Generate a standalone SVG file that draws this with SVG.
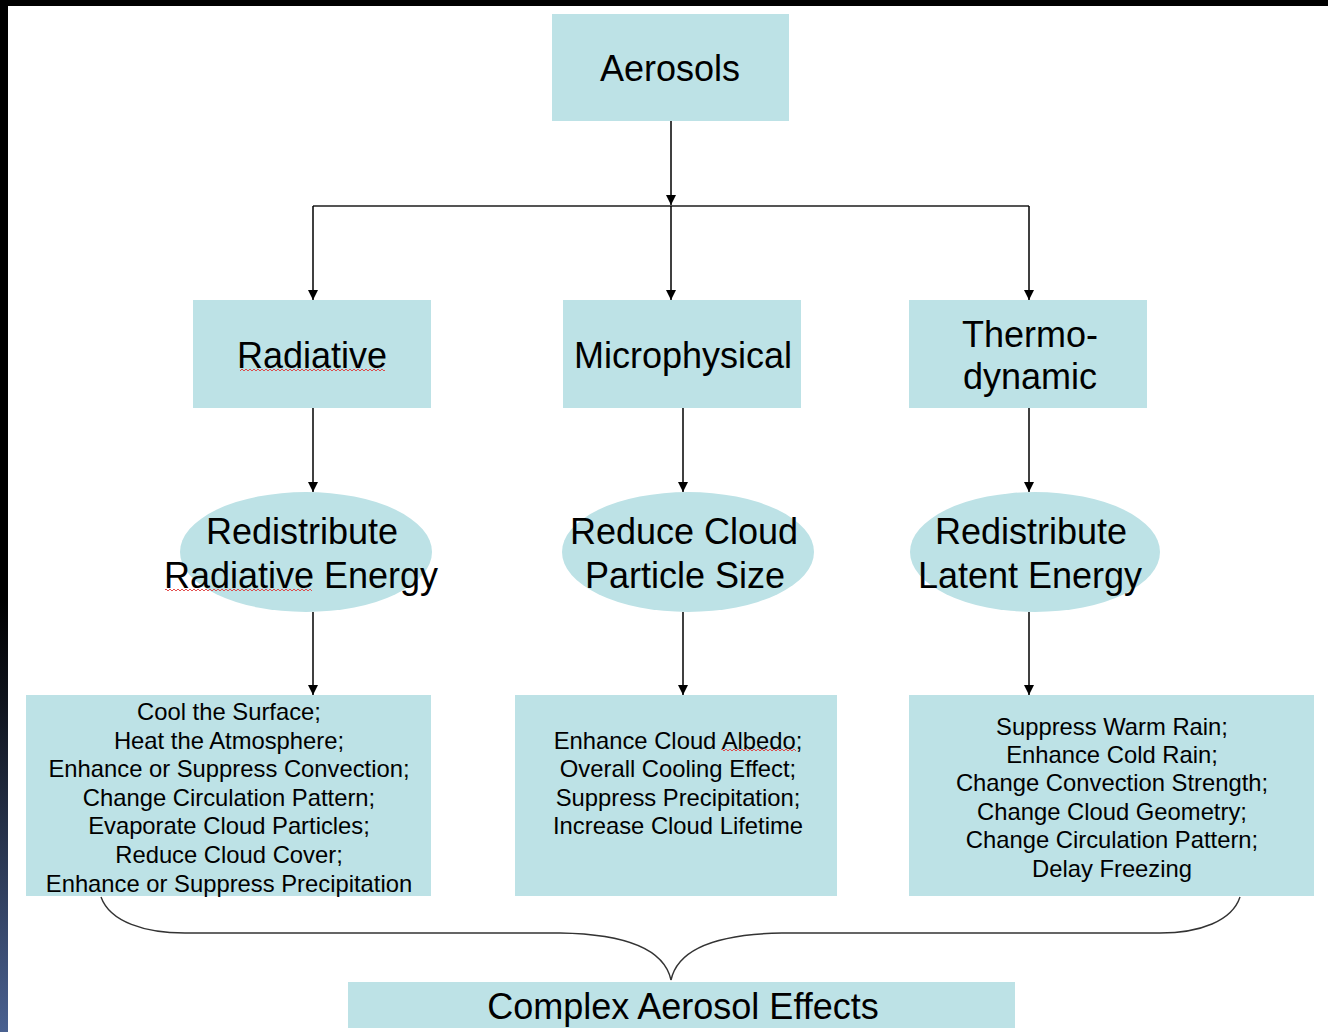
<svg xmlns="http://www.w3.org/2000/svg" width="1328" height="1032" viewBox="0 0 1328 1032">
  <defs>
    <linearGradient id="edge" x1="0" y1="0" x2="0" y2="1">
      <stop offset="0" stop-color="#000"/>
      <stop offset="0.58" stop-color="#000"/>
      <stop offset="0.68" stop-color="#0f131c"/>
      <stop offset="1" stop-color="#4a6190"/>
    </linearGradient>
    <marker id="arrow" viewBox="0 0 10 10" refX="10" refY="5" markerWidth="10" markerHeight="10" markerUnits="userSpaceOnUse" orient="auto">
      <path d="M0,0 L10,5 L0,10 Z" fill="#000"/>
    </marker>
    <!-- wavy spell-check underline -->
    <pattern id="squiggle" x="0" y="0" width="4" height="4" patternUnits="userSpaceOnUse">
      <path d="M0 3 L2 1 L4 3" fill="none" stroke="#e03a3a" stroke-width="0.9"/>
    </pattern>
  </defs>
  <style>
    .box { fill: #bde2e6; }
    .big { font-family: "Liberation Sans", Arial, sans-serif; font-size: 36px; fill: #000; text-anchor: middle; }
    .small { font-family: "Liberation Sans", Arial, sans-serif; font-size: 23.8px; fill: #000; text-anchor: middle; }
    .conn { fill: none; stroke: #000; stroke-width: 1.5; }
    .bus { fill: none; stroke: #555; stroke-width: 2; }
    .brace { fill: none; stroke: #333; stroke-width: 1.4; }
  </style>

  <rect x="0" y="0" width="1328" height="1032" fill="#fff"/>
  <!-- dark frame on top and left edges -->
  <rect x="0" y="0" width="1328" height="6" fill="#000"/>
  <rect x="0" y="0" width="8" height="1032" fill="url(#edge)"/>

  <g id="connectors">
    <path class="conn" d="M671 121 V205" marker-end="url(#arrow)"/>
    <path class="bus" d="M313 206 H1029"/>
    <path class="conn" d="M313 206 V300" marker-end="url(#arrow)"/>
    <path class="conn" d="M671 206 V300" marker-end="url(#arrow)"/>
    <path class="conn" d="M1029 206 V300" marker-end="url(#arrow)"/>
    <path class="conn" d="M313 408 V492" marker-end="url(#arrow)"/>
    <path class="conn" d="M683 408 V492" marker-end="url(#arrow)"/>
    <path class="conn" d="M1029 408 V492" marker-end="url(#arrow)"/>
    <path class="conn" d="M313 612 V695" marker-end="url(#arrow)"/>
    <path class="conn" d="M683 612 V695" marker-end="url(#arrow)"/>
    <path class="conn" d="M1029 612 V695" marker-end="url(#arrow)"/>
    <!-- brace gathering the three effect boxes -->
    <path class="brace" d="M101 897 C110 922 145 933 185 933 L560 933 C622 934 664 948 671 980"/>
    <path class="brace" d="M1240 897 C1232 921 1200 933 1160 933 L782 933 C720 934 678 948 671 980"/>
  </g>

  <g id="aerosols">
    <rect class="box" x="552" y="14" width="237" height="107"/>
    <text class="big" x="670" y="81">Aerosols</text>
  </g>

  <g id="radiative">
    <rect class="box" x="193" y="300" width="238" height="108"/>
    <text class="big" x="312" y="368">Radiative</text>
    <rect x="240" y="368" width="145" height="4" fill="url(#squiggle)"/>
  </g>

  <g id="microphysical">
    <rect class="box" x="563" y="300" width="238" height="108"/>
    <text class="big" x="683" y="368">Microphysical</text>
  </g>

  <g id="thermodynamic">
    <rect class="box" x="909" y="300" width="238" height="108"/>
    <text class="big" x="1030" y="347">Thermo-</text>
    <text class="big" x="1030" y="389">dynamic</text>
  </g>

  <g id="redistribute-radiative">
    <ellipse class="box" cx="306" cy="552" rx="126" ry="60"/>
    <text class="big" x="302" y="544">Redistribute</text>
    <text class="big" x="301" y="588">Radiative Energy</text>
    <rect x="165" y="588" width="147" height="4" fill="url(#squiggle)"/>
  </g>

  <g id="reduce-particle-size">
    <ellipse class="box" cx="688" cy="552" rx="126" ry="60"/>
    <text class="big" x="684" y="544">Reduce Cloud</text>
    <text class="big" x="685" y="588">Particle Size</text>
  </g>

  <g id="redistribute-latent">
    <ellipse class="box" cx="1035" cy="552" rx="125" ry="60"/>
    <text class="big" x="1031" y="544">Redistribute</text>
    <text class="big" x="1030" y="588">Latent Energy</text>
  </g>

  <g id="radiative-effects">
    <rect class="box" x="26" y="695" width="405" height="201"/>
    <text class="small" x="229" y="720">Cool the Surface;</text>
    <text class="small" x="229" y="749">Heat the Atmosphere;</text>
    <text class="small" x="229" y="777">Enhance or Suppress Convection;</text>
    <text class="small" x="229" y="806">Change Circulation Pattern;</text>
    <text class="small" x="229" y="834">Evaporate Cloud Particles;</text>
    <text class="small" x="229" y="863">Reduce Cloud Cover;</text>
    <text class="small" x="229" y="892">Enhance or Suppress Precipitation</text>
  </g>

  <g id="microphysical-effects">
    <rect class="box" x="515" y="695" width="322" height="201"/>
    <text class="small" x="678" y="749">Enhance Cloud Albedo;</text>
    <text class="small" x="678" y="777">Overall Cooling Effect;</text>
    <text class="small" x="678" y="806">Suppress Precipitation;</text>
    <text class="small" x="678" y="834">Increase Cloud Lifetime</text>
    <rect x="721" y="748" width="75" height="4" fill="url(#squiggle)"/>
  </g>

  <g id="thermodynamic-effects">
    <rect class="box" x="909" y="695" width="405" height="201"/>
    <text class="small" x="1112" y="735">Suppress Warm Rain;</text>
    <text class="small" x="1112" y="763">Enhance Cold Rain;</text>
    <text class="small" x="1112" y="791">Change Convection Strength;</text>
    <text class="small" x="1112" y="820">Change Cloud Geometry;</text>
    <text class="small" x="1112" y="848">Change Circulation Pattern;</text>
    <text class="small" x="1112" y="877">Delay Freezing</text>
  </g>

  <g id="complex-effects">
    <rect class="box" x="348" y="982" width="667" height="46"/>
    <text class="big" x="683" y="1019">Complex Aerosol Effects</text>
  </g>
</svg>
